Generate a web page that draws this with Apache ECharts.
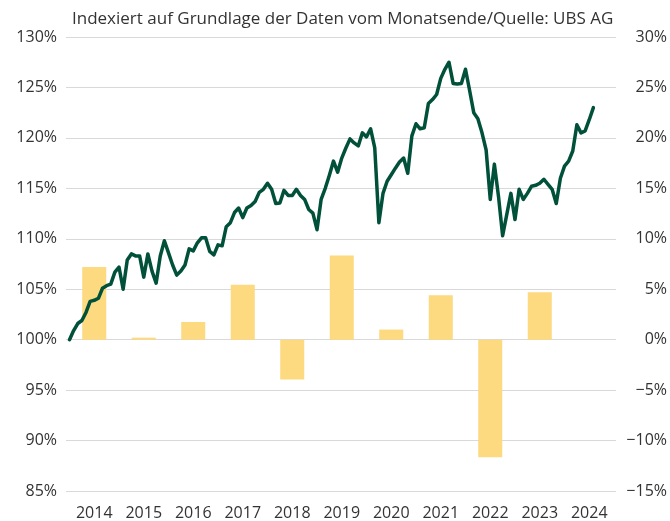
<!DOCTYPE html>
<html>
<head>
<meta charset="utf-8">
<script src="https://cdn.jsdelivr.net/npm/echarts@6/dist/echarts.min.js"></script>
<style>
  html, body { margin: 0; padding: 0; background: #fff; }
  #chart { width: 670px; height: 521px; }
</style>
</head>
<body>
<div id="chart"></div>
<script>
// Jahre (Balken + Achsenbeschriftung)
const years = ['2014', '2015', '2016', '2017', '2018', '2019', '2020', '2021', '2022', '2023', '2024']
// Jahresrendite in % (rechte Achse)
const yearReturns = [7.2, 0.2, 1.75, 5.45, -3.95, 8.35, 1.0, 4.4, -11.65, 4.7, null]
// Index, Monatsende, Index 0 = Dez. 2013 (linke Achse)
const indexValues = [
    100, 100.9, 101.6, 101.9, 102.7, 103.8, 103.9, 104.1, 105.1, 105.35, 105.5, 106.7,
    107.2, 105.0, 107.9, 108.5, 108.3, 108.3, 106.2, 108.5, 106.8, 105.6, 108.3, 109.8,
    108.6, 107.4, 106.4, 106.8, 107.4, 109.0, 108.8, 109.6, 110.1, 110.1, 108.75, 108.4,
    109.4, 109.3, 111.2, 111.6, 112.6, 113.05, 112.1, 113.05, 113.3, 113.7, 114.6, 114.9,
    115.5, 114.9, 113.5, 113.55, 114.8, 114.3, 114.3, 114.9, 114.3, 113.9, 112.9, 112.55,
    110.9, 113.9, 115.0, 116.3, 117.7, 116.6, 118.0, 119.0, 119.9, 119.5, 119.2, 120.5,
    120.1, 120.9, 119.0, 111.6, 114.5, 115.7, 116.35, 117.0, 117.6, 118.0, 116.5, 120.2,
    121.4, 120.9, 121.0, 123.4, 123.8, 124.3, 125.9, 126.8, 127.5, 125.4, 125.35, 125.4,
    126.8, 124.7, 122.5, 121.9, 120.5, 118.8, 113.9, 117.4, 114.2, 110.3, 112.4, 114.5,
    111.9, 114.9, 113.9, 114.5, 115.2, 115.3, 115.5, 115.9, 115.4, 114.9, 113.5, 116.0,
    117.2, 117.7, 118.7, 121.3, 120.5, 120.7, 121.8, 123.0
]
const monthsTotal = years.length * 12

const fontFamily = 'Open Sans'
const textColor = '#333'

const chart = echarts.init(document.getElementById('chart'))

const option = {
    animation: false,
    title: {
        text: 'Indexiert auf Grundlage der Daten vom Monatsende/Quelle: UBS AG',
        left: 67,
        top: 6,
        textStyle: { fontFamily, fontSize: 17, fontWeight: 'normal', color: textColor }
    },
    grid: [
        // Gitterlinien + y-Achsen
        { left: 66, right: 53, top: 37, bottom: 30 },
        // Daten
        { left: 69.5, right: 56, top: 37, bottom: 30 }
    ],
    xAxis: [
        { gridIndex: 0, type: 'value', show: false, min: 0, max: 1 },
        {
            gridIndex: 1,
            type: 'category',
            data: years,
            axisLine: { show: false },
            axisTick: { show: false },
            axisLabel: { color: textColor, fontFamily, fontSize: 16, margin: 14 }
        },
        { gridIndex: 1, type: 'value', show: false, min: 0, max: monthsTotal }
    ],
    yAxis: [
        {
            gridIndex: 0,
            type: 'value',
            min: 85,
            max: 130,
            interval: 5,
            axisLine: { show: false },
            axisTick: { show: false },
            splitLine: { lineStyle: { color: '#d9d9d9', width: 1 } },
            axisLabel: { color: textColor, fontFamily, fontSize: 16, margin: 9, formatter: v => v + '%' }
        },
        {
            gridIndex: 0,
            type: 'value',
            position: 'right',
            min: -15,
            max: 30,
            interval: 5,
            axisLine: { show: false },
            axisTick: { show: false },
            splitLine: { show: false },
            axisLabel: {
                color: textColor, fontFamily, fontSize: 16, margin: 51, align: 'right',
                formatter: v => (v < 0 ? '\u2212' + Math.abs(v) : v) + '%'
            }
        },
        { gridIndex: 1, type: 'value', show: false, min: 85, max: 130 },
        { gridIndex: 1, type: 'value', show: false, min: -15, max: 30 }
    ],
    series: [
        {
            type: 'bar',
            xAxisIndex: 1,
            yAxisIndex: 3,
            data: yearReturns,
            barWidth: 24,
            itemStyle: { color: '#fdd97f' }
        },
        {
            type: 'line',
            xAxisIndex: 2,
            yAxisIndex: 2,
            data: indexValues.map((v, i) => [i, v]),
            showSymbol: false,
            lineStyle: { color: '#00503a', width: 3.5, join: 'round', cap: 'round' }
        }
    ]
}

chart.setOption(option)
</script>
</body>
</html>
